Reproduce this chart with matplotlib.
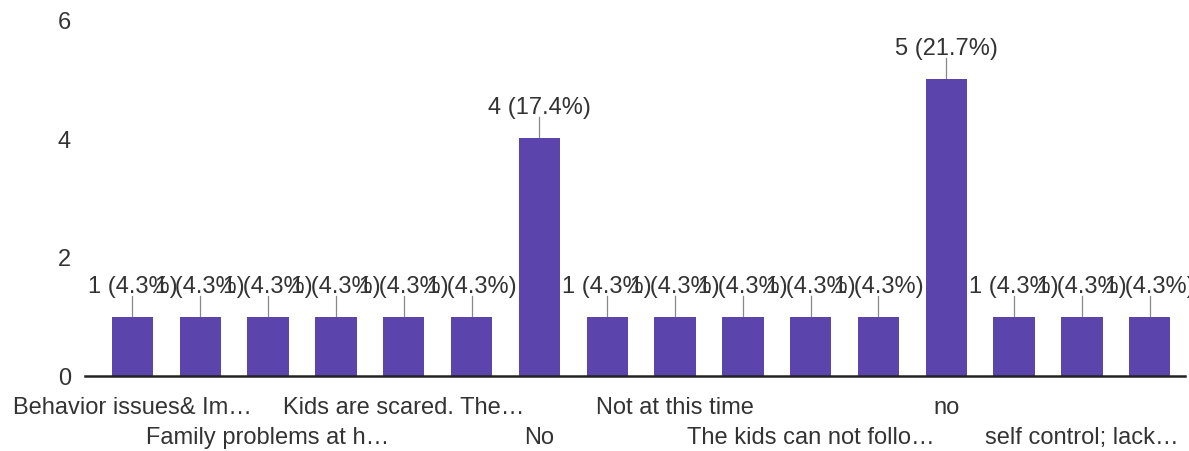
import matplotlib.pyplot as plt
import numpy as np

plt.rcParams['font.family'] = ['Liberation Sans', 'DejaVu Sans']

categories = ['Behavior issues& Im…', '', 'Family problems at h…', '',
              'Kids are scared. The…', '', 'No', '', 'Not at this time', '',
              'The kids can not follo…', '', 'no', '', 'self control; lack…', '']
counts = [1, 1, 1, 1, 1, 1, 4, 1, 1, 1, 1, 1, 5, 1, 1, 1]
pcts = ['4.3%', '4.3%', '4.3%', '4.3%', '4.3%', '4.3%', '17.4%', '4.3%',
        '4.3%', '4.3%', '4.3%', '4.3%', '21.7%', '4.3%', '4.3%', '4.3%']
yticks = [0, 2, 4, 6]

bar_color = '#5c44ad'
text_color = '#333333'
fs = 17

fig = plt.figure(figsize=(11.89, 4.52), dpi=100)
ax = fig.add_axes([85 / 1189, 75 / 452, (1185 - 85) / 1189, 357 / 452])

x = np.arange(len(counts))
ax.bar(x, counts, width=0.61, color=bar_color, zorder=2)

# value labels with short leader lines (neighbouring labels run into each other)
for xi, c, p in zip(x, counts, pcts):
    ax.plot([xi, xi], [c, c + 0.35], color='#888888', lw=0.9, zorder=1)
    ax.text(xi, c + 0.33, f'{c} ({p})', ha='center', va='bottom',
            fontsize=fs, color=text_color)

ax.set_xlim(-0.7, 15.52)
ax.set_ylim(0, 6)
ax.set_yticks(yticks)
ax.set_yticklabels([str(v) for v in yticks], fontsize=fs, color=text_color)
ax.tick_params(axis='y', length=0, pad=10)
ax.set_xticks([])

# staggered category labels
row = 0
for xi, lab in zip(x, categories):
    if not lab:
        continue
    ypos = -0.087 if row % 2 == 0 else -0.171
    ax.text(xi, ypos, lab, transform=ax.get_xaxis_transform(),
            ha='center', va='center', fontsize=fs, color=text_color)
    row += 1

for s in ['left', 'right', 'top']:
    ax.spines[s].set_visible(False)
ax.spines['bottom'].set_color('#222222')
ax.spines['bottom'].set_linewidth(1.8)

fig.savefig('out.png', dpi=100)
